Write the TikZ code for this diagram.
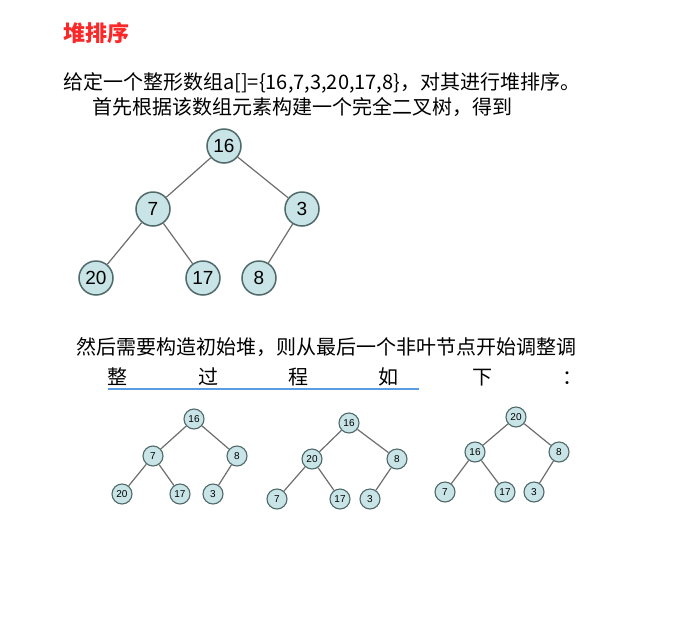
\documentclass[tikz,border=0pt]{standalone}
\usepackage{fontspec}
\setmainfont{Liberation Sans}
\newfontfamily\cjk{Noto Sans CJK SC}
\definecolor{nodefill}{RGB}{200,228,230}
\definecolor{nodedraw}{RGB}{80,105,105}
\definecolor{edgecol}{RGB}{110,110,110}
\definecolor{titlered}{RGB}{250,40,40}
\definecolor{ulblue}{RGB}{90,155,225}
\begin{document}
\begin{tikzpicture}[x=1pt,y=-1pt,
 big/.style={circle,draw=nodedraw,fill=nodefill,line width=1.5pt,minimum size=34pt,inner sep=0pt,font=\fontsize{19pt}{19pt}\selectfont},
 small/.style={circle,draw=nodedraw,fill=nodefill,line width=1.1pt,minimum size=20pt,inner sep=0pt,font=\fontsize{10pt}{10pt}\selectfont},
 edge/.style={draw=edgecol,line width=1.2pt},
 txt/.style={anchor=base west,inner sep=0pt,font=\cjk\fontsize{20pt}{24pt}\selectfont,text=black},
 chr/.style={anchor=base,inner sep=0pt,font=\cjk\fontsize{20pt}{24pt}\selectfont,text=black}]
\useasboundingbox[fill=white] (0,0) rectangle (686,638);
% texts
\node[anchor=base west,inner sep=0pt,font=\cjk\bfseries\fontsize{22pt}{26pt}\selectfont,text=titlered] (title) at (63,41.4) {堆排序};
\node[txt] (l1) at (63,89.6) {给定一个整形数组a[]=\{16,7,3,20,17,8\}，对其进行堆排序。};
\node[txt] (l2) at (92,114.6) {首先根据该数组元素构建一个完全二叉树，得到};
\node[txt] (l3) at (76,354.6) {然后需要构造初始堆，则从最后一个非叶节点开始调整调};
\node[chr] (w1) at (117,384.6) {整};
\node[chr] (w2) at (208,384.6) {过};
\node[chr] (w3) at (298,384.6) {程};
\node[chr] (w4) at (388,384.6) {如};
\node[chr] (w5) at (482,384.6) {下};
\node[txt] (w6) at (562,384.6) {：};
\coordinate (u1) at (108,389);
\coordinate (u2) at (419,389);
\draw[ulblue,line width=1.2pt] (u1) -- (u2);
% big tree
\node[big] (t1) at (224,146) {16};
\node[big] (t2) at (153,209) {7};
\node[big] (t3) at (302,209) {3};
\node[big] (t4) at (96,278) {20};
\node[big] (t5) at (203,278) {17};
\node[big] (t6) at (259,278) {8};
\draw[edge] (t1) -- (t2) (t1) -- (t3) (t2) -- (t4) (t2) -- (t5) (t3) -- (t6);
% small tree A
\node[small] (a1) at (194,419) {16};
\node[small] (a2) at (153,456) {7};
\node[small] (a3) at (237,456) {8};
\node[small] (a4) at (122,494) {20};
\node[small] (a5) at (180,494) {17};
\node[small] (a6) at (213,494) {3};
\draw[edge] (a1) -- (a2) (a1) -- (a3) (a2) -- (a4) (a2) -- (a5) (a3) -- (a6);
% small tree B
\node[small] (b1) at (349,423) {16};
\node[small] (b2) at (312,459) {20};
\node[small] (b3) at (397,459) {8};
\node[small] (b4) at (277,499) {7};
\node[small] (b5) at (340,499) {17};
\node[small] (b6) at (370,499) {3};
\draw[edge] (b1) -- (b2) (b1) -- (b3) (b2) -- (b4) (b2) -- (b5) (b3) -- (b6);
% small tree C
\node[small] (c1) at (516,417) {20};
\node[small] (c2) at (475,452) {16};
\node[small] (c3) at (559,452) {8};
\node[small] (c4) at (445,492) {7};
\node[small] (c5) at (505,492) {17};
\node[small] (c6) at (534,492) {3};
\draw[edge] (c1) -- (c2) (c1) -- (c3) (c2) -- (c4) (c2) -- (c5) (c3) -- (c6);
\end{tikzpicture}
\end{document}
